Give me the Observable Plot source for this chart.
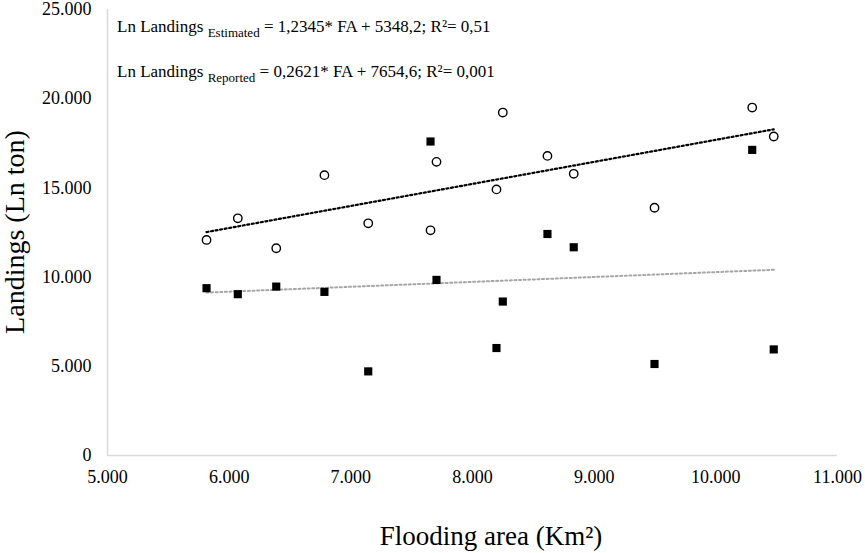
<!DOCTYPE html>
<html><head><meta charset="utf-8">
<script src="https://cdn.jsdelivr.net/npm/d3@7"></script>
<script src="https://cdn.jsdelivr.net/npm/@observablehq/plot@0.6"></script>
<style>body{margin:0;background:#fff;}</style>
</head><body><div id="chart"></div>
<script>
// Flooding area (Km²)
const floodingArea = [5814, 6071, 6387, 6783, 7143, 7655, 7704, 8197, 8249, 8616, 8832, 9496, 10299, 10476];
// Landings estimated (open circles)
const estimated = [12081, 13294, 11616, 15716, 13015, 12623, 16460, 14916, 19223, 16795, 15790, 13887, 19502, 17880];
// Landings reported (filled squares)
const reported = [9378, 9043, 9468, 9172, 4715, 17600, 9843, 6024, 8630, 12416, 11672, 5129, 17131, 5946];
const xTicks = [5000, 6000, 7000, 8000, 9000, 10000, 11000];
const yTicks = [0, 5000, 10000, 15000, 20000, 25000];
const xTitle = "Flooding area (Km²)";
const yTitle = "Landings (Ln ton)";
const eqMain = ["Ln Landings ", "Ln Landings "];
const eqSub = ["Estimated", "Reported"];
const eqRest = [" = 1,2345* FA + 5348,2; R²= 0,51", " = 0,2621* FA + 7654,6; R²= 0,001"];

const fmt = d3.formatLocale({decimal: ",", thousands: ".", grouping: [3], currency: ["", ""]}).format(",.0f");
const est = floodingArea.map((x, i) => ({x, y: estimated[i]}));
const rep = floodingArea.map((x, i) => ({x, y: reported[i]}));

const W = 865, H = 553, ml = 107, mr = 28, mt = 9, mb = 98;
const serif = "'Liberation Serif', 'Times New Roman', serif";

const plot = Plot.plot({
  width: W, height: H,
  marginLeft: ml, marginRight: mr, marginTop: mt, marginBottom: mb,
  style: {fontFamily: serif, fontSize: "18px", color: "#000", background: "#fff"},
  x: {domain: [5000, 11000], label: null},
  y: {domain: [0, 25000], label: null},
  marks: [
    Plot.ruleX([5000], {stroke: "#d9d9d9", strokeWidth: 1.5}),
    Plot.ruleY([0], {stroke: "#d9d9d9", strokeWidth: 1.5}),
    Plot.axisX({ticks: xTicks, tickFormat: fmt, tickSize: 0, tickPadding: 15, label: null, fontSize: 18}),
    Plot.axisY({ticks: yTicks, tickFormat: fmt, tickSize: 0, tickPadding: 16, label: null, fontSize: 18}),
    Plot.linearRegressionY(rep, {x: "x", y: "y", stroke: "#a6a6a6", strokeWidth: 2, strokeDasharray: "2,2.6", ci: 0}),
    Plot.linearRegressionY(est, {x: "x", y: "y", stroke: "#000", strokeWidth: 2.2, strokeDasharray: "2,2.6", ci: 0}),
    Plot.dot(rep, {x: "x", y: "y", symbol: "square", r: 4.6, fill: "#000", stroke: "none"}),
    Plot.dot(est, {x: "x", y: "y", symbol: "circle", r: 4.2, fill: "#fff", stroke: "#000", strokeWidth: 1.4})
  ]
});
document.getElementById("chart").append(plot);

const svg = d3.select(plot);
const xs = plot.scale("x");

// Axis titles
svg.append("text")
  .attr("x", 491).attr("y", 545)
  .attr("text-anchor", "middle")
  .style("font-family", serif).style("font-size", "27px").attr("fill", "#000")
  .text(xTitle);
svg.append("text")
  .attr("transform", `translate(24,${(mt + H - mb) / 2}) rotate(-90)`)
  .attr("text-anchor", "middle")
  .style("font-family", serif).style("font-size", "28px").attr("fill", "#000")
  .text(yTitle);

// Regression equations
const baselines = [32, 77];
eqMain.forEach((m, i) => {
  const t = svg.append("text")
    .attr("x", xs.apply(5000) + 10).attr("y", baselines[i])
    .attr("text-anchor", "start")
    .style("font-family", serif).style("font-size", "17px").attr("fill", "#000");
  t.append("tspan").text(m);
  t.append("tspan").attr("dy", 5).style("font-size", "13px").text(eqSub[i]);
  t.append("tspan").attr("dy", -5).text(eqRest[i]);
});
</script>
</body></html>
